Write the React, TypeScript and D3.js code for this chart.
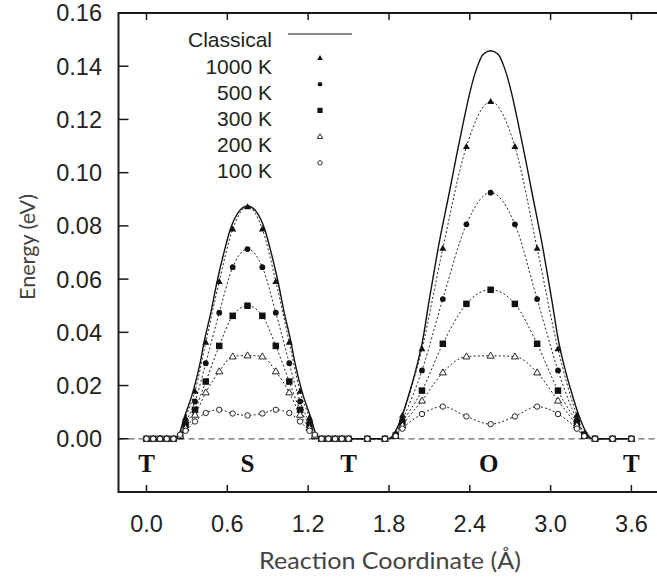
import React from 'react';
import * as d3 from 'd3';

// ---- data ----
const xTicks = [0, 0.6, 1.2, 1.8, 2.4, 3.0, 3.6];
const xTickLabels = ['0.0', '0.6', '1.2', '1.8', '2.4', '3.0', '3.6'];
const yTicks = [0, 0.02, 0.04, 0.06, 0.08, 0.1, 0.12, 0.14, 0.16];
const yTickLabels = ['0.00', '0.02', '0.04', '0.06', '0.08', '0.10', '0.12', '0.14', '0.16'];
const siteLabels = ['T', 'S', 'T', 'O', 'T'];
const sitePositions = [0, 0.75, 1.5, 2.54, 3.6];

const gridX = [
  0, 0.05, 0.1, 0.15, 0.2,
  0.25, 0.29, 0.36, 0.44, 0.54, 0.64, 0.75, 0.86, 0.96, 1.06, 1.14, 1.21, 1.25,
  1.3, 1.35, 1.4, 1.45, 1.5, 1.64, 1.77,
  1.85, 1.9, 2.045, 2.2, 2.375, 2.555, 2.735, 2.9, 3.055, 3.195, 3.25,
  3.33, 3.46, 3.6,
];

const e1000 = [
  0, 0, 0, 0, 0,
  0.0015, 0.0078, 0.0178, 0.0362, 0.0591, 0.0788, 0.0872, 0.0788, 0.0591, 0.0362, 0.0178, 0.0078, 0.0015,
  0, 0, 0, 0, 0, 0, 0,
  0.002, 0.0088, 0.0338, 0.0716, 0.1098, 0.1267, 0.1098, 0.0716, 0.0338, 0.0088, 0.002,
  0, 0, 0,
];
const e500 = [
  0, 0, 0, 0, 0,
  0.0012, 0.006, 0.014, 0.0284, 0.0474, 0.0645, 0.0713, 0.0645, 0.0474, 0.0284, 0.014, 0.006, 0.0012,
  0, 0, 0, 0, 0, 0, 0,
  0.0015, 0.007, 0.0257, 0.0525, 0.0806, 0.0925, 0.0806, 0.0525, 0.0257, 0.007, 0.0015,
  0, 0, 0,
];
const e300 = [
  0, 0, 0, 0, 0,
  0.001, 0.0053, 0.0109, 0.0215, 0.0349, 0.0462, 0.05, 0.0462, 0.0349, 0.0215, 0.0109, 0.0053, 0.001,
  0, 0, 0, 0, 0, 0, 0,
  0.0012, 0.006, 0.0181, 0.0357, 0.0507, 0.056, 0.0507, 0.0357, 0.0181, 0.006, 0.0012,
  0, 0, 0,
];
const e200 = [
  0, 0, 0, 0, 0,
  0.001, 0.004, 0.009, 0.0174, 0.0253, 0.0309, 0.0313, 0.0309, 0.0253, 0.0174, 0.009, 0.004, 0.001,
  0, 0, 0, 0, 0, 0, 0,
  0.001, 0.005, 0.0143, 0.0249, 0.0309, 0.0312, 0.0309, 0.0249, 0.0143, 0.005, 0.001,
  0, 0, 0,
];
const e100 = [
  0, 0, 0, 0, 0,
  0.0015, 0.003, 0.0065, 0.0097, 0.0109, 0.0095, 0.0088, 0.0095, 0.0109, 0.0097, 0.0065, 0.003, 0.0015,
  0, 0, 0, 0, 0, 0, 0,
  0.001, 0.0038, 0.0093, 0.0121, 0.0084, 0.0055, 0.0084, 0.0121, 0.0093, 0.0038, 0.001,
  0, 0, 0,
];

const classicalX = [
  0, 0.2, 0.235, 0.279, 0.346, 0.4, 0.427, 0.48, 0.524, 0.58, 0.623, 0.68, 0.75,
  0.82, 0.877, 0.92, 0.976, 1.02, 1.073, 1.1, 1.154, 1.221, 1.265, 1.3,
  1.8, 1.85, 1.9, 1.95, 2.0, 2.05, 2.1, 2.163, 2.257, 2.3, 2.356, 2.4, 2.45, 2.5, 2.554,
  2.61, 2.66, 2.71, 2.754, 2.81, 2.853, 2.945, 3.008, 3.058, 3.108, 3.158, 3.208, 3.258, 3.31, 3.6,
];
const classicalE = [
  0, 0, 0.001, 0.0078, 0.0178, 0.029, 0.0362, 0.048, 0.0591, 0.071, 0.0788, 0.085, 0.0875,
  0.085, 0.0788, 0.071, 0.0591, 0.048, 0.0362, 0.029, 0.0178, 0.0078, 0.001, 0,
  0, 0.003, 0.009, 0.017, 0.026, 0.037, 0.0525, 0.071, 0.0948, 0.106, 0.1198, 0.13, 0.139, 0.1445, 0.1458,
  0.1445, 0.139, 0.13, 0.1198, 0.106, 0.0948, 0.071, 0.0525, 0.037, 0.026, 0.017, 0.009, 0.003, 0, 0,
];

const legendLabels = ['Classical', '1000 K', '500 K', '300 K', '200 K', '100 K'];

// ---- layout ----
const W = 657;
const H = 578;
const LEFT = 118.5;
const TOP = 13;
const BOTTOM = 492;
const RIGHT = 657;

type Kind = 'triF' | 'circF' | 'sqF' | 'triO' | 'circO';
const seriesList: { values: number[]; kind: Kind }[] = [
  { values: e1000, kind: 'triF' },
  { values: e500, kind: 'circF' },
  { values: e300, kind: 'sqF' },
  { values: e200, kind: 'triO' },
  { values: e100, kind: 'circO' },
];

function Marker({ cx, cy, kind, s = 1 }: { cx: number; cy: number; kind: Kind; s?: number }) {
  const ink = '#111';
  if (kind === 'triF' || kind === 'triO') {
    const h = 6 * s, w = 7 * s;
    const d = `M${cx},${cy - h * 0.6}L${cx + w / 2},${cy + h * 0.4}L${cx - w / 2},${cy + h * 0.4}Z`;
    return kind === 'triF'
      ? <path d={d} fill={ink} />
      : <path d={d} fill="#fff" stroke={ink} strokeWidth={0.9} />;
  }
  if (kind === 'sqF') {
    const a = 6.5 * s;
    return <rect x={cx - a / 2} y={cy - a / 2} width={a} height={a} fill={ink} />;
  }
  if (kind === 'circF') return <circle cx={cx} cy={cy} r={2.9 * s} fill={ink} />;
  return <circle cx={cx} cy={cy} r={2.7 * s} fill="#fff" stroke={ink} strokeWidth={0.9} />;
}

export default function App() {
  const x = d3.scaleLinear().domain([-0.208, 3.79]).range([LEFT, RIGHT]);
  const y = d3.scaleLinear().domain([-0.02, 0.16]).range([BOTTOM, TOP]);

  const line = d3
    .line<[number, number]>()
    .x((d) => x(d[0]))
    .y((d) => y(d[1]))
    .curve(d3.curveMonotoneX);

  const classicalPath = line(classicalX.map((v, i) => [v, classicalE[i]] as [number, number])) || '';

  const font = "'Liberation Sans', Arial, Helvetica, sans-serif";
  const titleFont = "Lato, 'Open Sans', sans-serif";

  return (
    <svg
      width={W}
      height={H}
      viewBox={`0 0 ${W} ${H}`}
      style={{ position: 'absolute', left: 0, top: 0, background: '#fff' }}
    >
      <rect x={0} y={0} width={W} height={H} fill="#fff" />
      <defs>
        <clipPath id="plotclip">
          <rect x={LEFT} y={TOP} width={RIGHT - LEFT} height={BOTTOM - TOP} />
        </clipPath>
      </defs>

      {/* zero line */}
      <line x1={LEFT} x2={RIGHT} y1={y(0)} y2={y(0)} stroke="#666" strokeWidth={1.2} strokeDasharray="6,4" />

      <g clipPath="url(#plotclip)">
        {seriesList.map((s, si) => (
          <path
            key={si}
            d={line(gridX.map((v, i) => [v, s.values[i]] as [number, number])) || ''}
            fill="none"
            stroke="#222"
            strokeWidth={1}
            strokeDasharray="2,2.2"
          />
        ))}
        <path d={classicalPath} fill="none" stroke="#111" strokeWidth={1.4} />
        {seriesList.map((s, si) => (
          <g key={si}>
            {gridX.map((v, i) => (
              <Marker key={i} cx={x(v)} cy={y(s.values[i])} kind={s.kind} />
            ))}
          </g>
        ))}
      </g>

      {/* frame */}
      <path
        d={`M${RIGHT},${TOP}H${LEFT}V${BOTTOM}H${RIGHT}`}
        fill="none"
        stroke="#1a1a1a"
        strokeWidth={2}
      />

      {/* y ticks */}
      {yTicks.map((t, i) => (
        <g key={i}>
          <line x1={LEFT} x2={LEFT + 10} y1={y(t)} y2={y(t)} stroke="#1a1a1a" strokeWidth={1.5} />
          <text
            x={102}
            y={y(t)}
            dy="0.36em"
            textAnchor="end"
            fontFamily={font}
            fontSize={23.5}
            fill="#222"
          >
            {yTickLabels[i]}
          </text>
        </g>
      ))}

      {/* x ticks */}
      {xTicks.map((t, i) => (
        <g key={i}>
          <line x1={x(t)} x2={x(t)} y1={BOTTOM} y2={BOTTOM - 7} stroke="#1a1a1a" strokeWidth={1.5} />
          <line x1={x(t)} x2={x(t)} y1={TOP} y2={TOP + 7} stroke="#1a1a1a" strokeWidth={1.5} />
          <text x={x(t)} y={532} textAnchor="middle" fontFamily={font} fontSize={23.5} fill="#222">
            {xTickLabels[i]}
          </text>
        </g>
      ))}

      {/* site labels */}
      {siteLabels.map((l, i) => (
        <text
          key={i}
          x={x(sitePositions[i])}
          y={472}
          textAnchor="middle"
          fontFamily="'Liberation Serif', 'Times New Roman', serif"
          fontWeight="bold"
          fontSize={25}
          fill="#111"
        >
          {l}
        </text>
      ))}

      {/* axis titles */}
      <text
        x={390}
        y={569}
        textAnchor="middle"
        fontFamily={titleFont}
        fontSize={23}
        fill="#444"
        textLength={262}
        lengthAdjust="spacingAndGlyphs"
      >
        Reaction Coordinate (Å)
      </text>
      <text
        transform="translate(35,247) rotate(-90)"
        textAnchor="middle"
        fontFamily={titleFont}
        fontSize={22}
        fill="#444"
        textLength={106}
        lengthAdjust="spacingAndGlyphs"
      >
        Energy (eV)
      </text>

      {/* legend */}
      {legendLabels.map((l, i) => {
        const base = 47.3 + i * 26.2;
        return (
          <g key={i}>
            <text x={272} y={base} textAnchor="end" fontFamily={font} fontSize={21} fill="#222">
              {l}
            </text>
            {i === 0 ? (
              <line x1={288} x2={352} y1={base - 13.3} y2={base - 13.3} stroke="#111" strokeWidth={1.2} />
            ) : (
              <Marker cx={320} cy={base - 15.5} kind={seriesList[i - 1].kind} s={0.8} />
            )}
          </g>
        );
      })}
    </svg>
  );
}
